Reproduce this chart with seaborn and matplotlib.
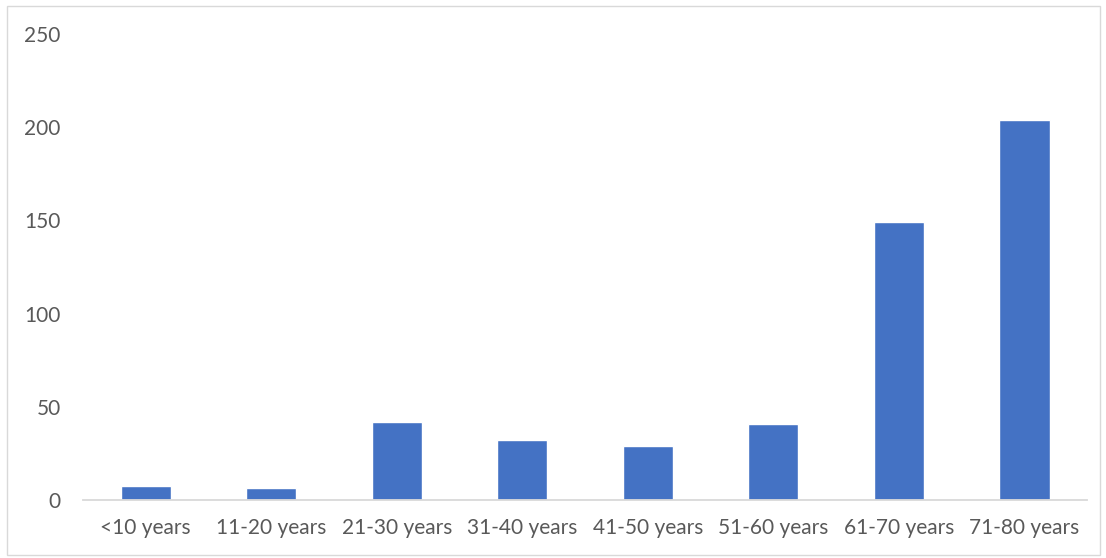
import numpy as np
import pandas as pd
import seaborn as sns
from matplotlib import pyplot as plt
from matplotlib.patches import Rectangle

categories = ["<10 years", "11-20 years", "21-30 years", "31-40 years",
              "41-50 years", "51-60 years", "61-70 years", "71-80 years"]
counts = [7.5, 6.4, 42, 32, 29, 41, 149, 204]
yticks = [0, 50, 100, 150, 200, 250]

data = pd.DataFrame({"age": categories, "count": counts})

sns.set_style("white")
plt.rcParams['font.family'] = ['Lato', 'DejaVu Sans']

fig = plt.figure(figsize=(11.06, 5.58), dpi=100)
ax = fig.add_axes([0.075, 0.1039, 0.908, 0.835])

sns.barplot(data=data, x="age", y="count", color="#4472C4", width=0.4,
            saturation=1, ax=ax)

ax.set_ylim(0, 250)
ax.set_yticks(yticks)
ax.set_xlim(-0.5, len(categories) - 0.5)
ax.set_xlabel("")
ax.set_ylabel("")
for s in ["top", "right", "left"]:
    ax.spines[s].set_visible(False)
ax.spines["bottom"].set_color("#D9D9D9")
ax.spines["bottom"].set_linewidth(1.3)
ax.tick_params(axis="both", length=0, labelsize=15, labelcolor="#595959")
ax.tick_params(axis="x", pad=13)
ax.tick_params(axis="y", pad=16)

# chart area border
fig.patches.append(Rectangle((0.006, 0.005), 0.989, 0.985, transform=fig.transFigure,
                             fill=False, edgecolor="#D9D9D9", linewidth=1))

fig.savefig("out.png", dpi=100)
